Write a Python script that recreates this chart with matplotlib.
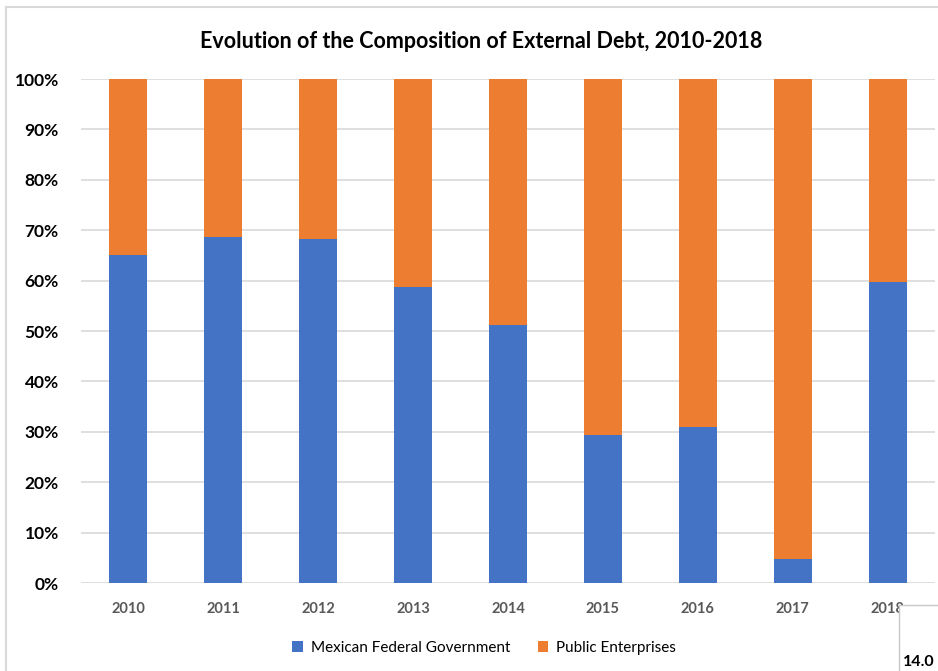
import matplotlib.pyplot as plt
from matplotlib.patches import Rectangle
from matplotlib.lines import Line2D
import numpy as np

plt.rcParams['font.family'] = ['Lato', 'DejaVu Sans']

# Share of external debt (%) by holder
years = ['2010', '2011', '2012', '2013', '2014', '2015', '2016', '2017', '2018']
federal_gov = [65.1, 68.7, 68.3, 58.7, 51.2, 29.4, 31.0, 4.8, 59.7]
public_ent = [100 - v for v in federal_gov]

blue = '#4472c4'
orange = '#ed7d31'

fig = plt.figure(figsize=(9.38, 6.71), dpi=100)
ax = fig.add_axes([81/938, 1 - 583/671, (935 - 81)/938, (583 - 79)/671])

x = np.arange(len(years))
ax.bar(x, federal_gov, width=0.4, color=blue, zorder=3,
       label='Mexican Federal Government')
ax.bar(x, public_ent, width=0.4, bottom=federal_gov, color=orange, zorder=3,
       label='Public Enterprises')

ax.set_xlim(-0.5, len(years) - 0.5)
ax.set_ylim(0, 100)
ax.set_yticks(np.arange(0, 101, 10))
ax.set_yticklabels([f'{v}%' for v in range(0, 101, 10)],
                   fontsize=12.5, fontweight='bold', color='black')
ax.set_xticks(x)
ax.set_xticklabels(years, fontsize=10.5, fontweight='bold', color='#595959')
ax.tick_params(axis='both', length=0)
ax.tick_params(axis='y', pad=16)
ax.tick_params(axis='x', pad=14)
ax.grid(axis='y', color='#d9d9d9', linewidth=1.2, zorder=0)
for s in ax.spines.values():
    s.set_visible(False)

fig.text(481/938, 1 - 42/671, 'Evolution of the Composition of External Debt, 2010-2018',
         ha='center', va='center', fontsize=15.5, fontweight='bold')

fig.legend(loc='center', bbox_to_anchor=(484/938, 1 - 648/671), ncol=2,
           frameon=False, fontsize=11, handlelength=0.7, handleheight=0.7,
           columnspacing=1.8, handletextpad=0.5)

# chart frame edges
fig.add_artist(Line2D([6/938, 6/938], [0, 1 - 7/671], transform=fig.transFigure,
                      color='#d9d9d9', linewidth=1.5))
fig.add_artist(Line2D([6/938, 1], [1 - 7/671, 1 - 7/671], transform=fig.transFigure,
                      color='#d9d9d9', linewidth=1.5))

# overlapping box at bottom right
fig.add_artist(Rectangle((899/938, -0.01), 60/938, 66/671 + 0.01,
                         transform=fig.transFigure, facecolor='white',
                         edgecolor='#c8c8c8', linewidth=1.0, zorder=10))
fig.text(903/938, 1 - 669/671, '14.0', fontsize=11.5, fontweight='bold',
         ha='left', va='bottom', zorder=11)

fig.savefig('out.png', dpi=100)
